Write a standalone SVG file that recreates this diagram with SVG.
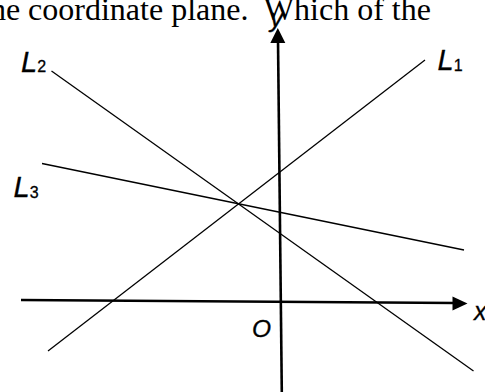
<svg xmlns="http://www.w3.org/2000/svg" width="485" height="392" viewBox="0 0 485 392">
<style>
.ln{stroke:#000;stroke-width:1.3;fill:none}
.ax{stroke:#000;stroke-width:2.6;fill:none}
.lab{font-family:"Liberation Sans",Arial,sans-serif;font-style:italic;fill:#000;stroke:#000;stroke-width:0.3}
.sub{font-family:"Liberation Sans",Arial,sans-serif;font-style:normal;fill:#000;stroke:#000;stroke-width:0.3;font-size:16px}
.head{font-family:"Liberation Serif","Times New Roman",serif;font-size:32px;fill:#000;white-space:pre}
</style>
<rect width="485" height="392" fill="#fff"/>
<text class="head" x="-19" y="20" xml:space="preserve">the coordinate plane.  Which of the</text>
<g id="connectors">
<line class="ln" x1="425" y1="60" x2="48" y2="351"/>
<line class="ln" x1="51.5" y1="71" x2="473.5" y2="371"/>
<line class="ln" x1="42" y1="163.5" x2="464" y2="250"/>
</g>
<g id="x-axis">
<line class="ax" x1="21" y1="300" x2="455" y2="303"/>
<polygon points="467.5,303.6 452.5,296.6 452.5,310.6" fill="#000"/>
<text class="lab" x="474" y="320" font-size="25">x</text>
</g>
<g id="y-axis">
<line class="ax" x1="278" y1="40" x2="281.8" y2="392"/>
<polygon points="277.8,28 270.3,43 285.3,43" fill="#000"/>
<text class="lab" x="270" y="27" font-size="26">y</text>
</g>
<g id="origin">
<text class="lab" x="252" y="337" font-size="24.5">O</text>
</g>
<g id="L1">
<text class="lab" x="437.5" y="70" font-size="29">L<tspan class="sub" dy="0.5">1</tspan></text>
</g>
<g id="L2">
<text class="lab" x="21" y="71.5" font-size="29">L<tspan class="sub" dy="0.5">2</tspan></text>
</g>
<g id="L3">
<text class="lab" x="13.5" y="197" font-size="29">L<tspan class="sub" dy="0.5">3</tspan></text>
</g>
</svg>
